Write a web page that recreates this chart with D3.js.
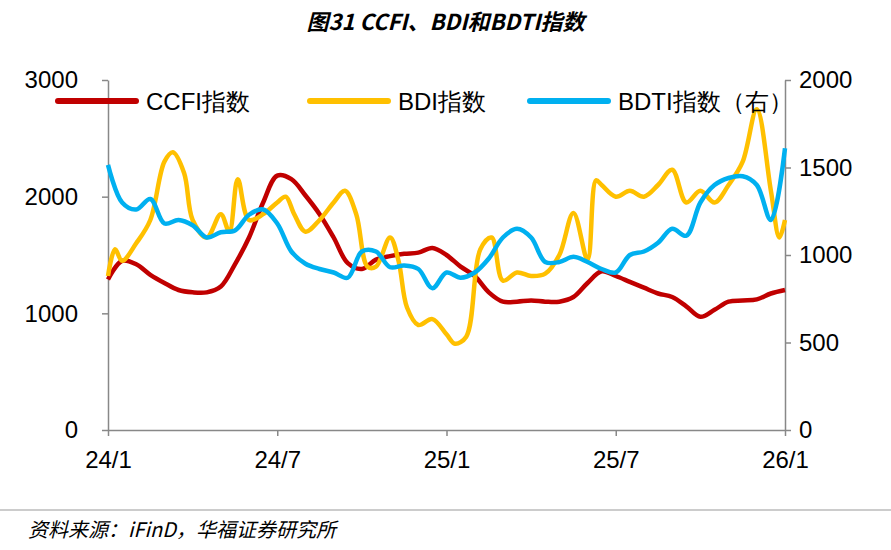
<!DOCTYPE html>
<html><head><meta charset="utf-8">
<script src="https://cdn.jsdelivr.net/npm/d3@7"></script>
<style>body{margin:0;background:#fff}</style>
</head><body>
<div id="chart"></div>
<script>
// months since 2024-01
var ccfiM = [0,0.5,1,1.5,2,2.5,3,3.5,4,4.5,5,5.5,6,6.5,7,7.5,8,8.5,9,9.5,10,10.5,11,11.5,12,12.5,13,13.5,14,14.5,15,15.5,16,16.5,17,17.5,18,18.5,19,19.5,20,20.5,21,21.5,22,22.5,23,23.5,24];
var ccfi = [1290,1450,1420,1330,1260,1200,1180,1180,1230,1420,1650,1950,2180,2150,2010,1850,1650,1430,1380,1460,1490,1510,1520,1560,1500,1400,1320,1180,1100,1100,1110,1100,1100,1140,1260,1360,1320,1270,1220,1170,1140,1060,970,1030,1100,1110,1120,1170,1200];
var bdiM = [0,0.25,0.5,1,1.5,2,2.3,2.7,3,3.5,4,4.3,4.6,5,5.5,6,6.3,6.6,7,7.5,8,8.4,8.8,9.2,9.5,10,10.3,10.6,11,11.5,12,12.3,12.7,13.2,13.6,14,14.5,15,15.5,16,16.5,17,17.3,17.5,18,18.5,19,19.5,20,20.5,21,21.5,22,22.5,23,23.5,23.8,24];
var bdi = [1320,1550,1450,1600,1800,2300,2380,2200,1800,1650,1850,1700,2150,1800,1850,1950,2000,1850,1700,1800,1950,2050,1850,1400,1400,1650,1450,1050,900,950,820,740,800,1550,1650,1280,1350,1320,1340,1500,1860,1460,2140,2100,2000,2050,2000,2100,2230,1950,2050,1950,2100,2300,2750,2050,1650,1800];
var bdtiM = ccfiM;
var bdti = [1515,1300,1260,1320,1180,1200,1170,1100,1130,1140,1230,1260,1180,1020,950,920,900,870,1020,1020,930,940,920,810,900,870,900,980,1100,1150,1100,960,960,990,960,920,900,1000,1020,1070,1150,1110,1300,1400,1440,1450,1400,1200,1610];
var tickM = [0,6,12,18,24];
var tickLabels = ["24/1","24/7","25/1","25/7","26/1"];
var names = ["CCFI指数","BDI指数","BDTI指数（右）"];
var colors = ["#c00000","#ffc000","#00b0f0"];

var W = 891, H = 550;
var svg = d3.select("#chart").append("svg").attr("width", W).attr("height", H)
  .style("font-family", "Liberation Sans, Arial, sans-serif");

var x = d3.scaleLinear().domain([0,24]).range([108,785]);
var yL = d3.scaleLinear().domain([0,3000]).range([430,80]);
var yR = d3.scaleLinear().domain([0,2000]).range([430,80]);

svg.append("text").attr("x", W/2).attr("y", 30).attr("text-anchor","middle")
  .attr("font-size", 22).attr("font-style","italic").attr("font-weight","bold")
  .style("font-family","Noto Sans CJK SC, sans-serif")
  .text("图31 CCFI、BDI和BDTI指数");

function styleAxis(g){
  g.selectAll("path,line").attr("stroke","#888").attr("stroke-width",1.5);
  g.selectAll("text").attr("font-size",24).attr("fill","#000");
}
svg.append("g").attr("transform","translate(108,0)")
  .call(d3.axisLeft(yL).tickValues([0,1000,2000,3000]).tickFormat(d3.format("d")).tickSize(6).tickSizeOuter(0))
  .call(styleAxis)
  .call(function(g){ g.selectAll("text").attr("x",-30); });
svg.append("g").attr("transform","translate(785,0)")
  .call(d3.axisRight(yR).tickValues([0,500,1000,1500,2000]).tickFormat(d3.format("d")).tickSize(6).tickSizeOuter(0))
  .call(styleAxis)
  .call(function(g){ g.selectAll("text").attr("x",14); });
svg.append("g").attr("transform","translate(0,430)")
  .call(d3.axisBottom(x).tickValues(tickM).tickFormat(function(d,i){return tickLabels[i];}).tickSize(6).tickSizeOuter(0))
  .call(styleAxis)
  .call(function(g){ g.selectAll("text").attr("dy","1.2em"); });

function draw(ms, vs, y, c){
  var line = d3.line().x(function(d,i){return x(ms[i]);}).y(function(d){return y(d);}).curve(d3.curveCatmullRom);
  svg.append("path").datum(vs).attr("d", line).attr("fill","none")
    .attr("stroke", c).attr("stroke-width", 4.5).attr("stroke-linejoin","round");
}
draw(ccfiM, ccfi, yL, colors[0]);
draw(bdiM, bdi, yL, colors[1]);
draw(bdtiM, bdti, yR, colors[2]);

// legend
var legX = [58, 310, 530];
names.forEach(function(n,i){
  svg.append("line").attr("x1",legX[i]).attr("x2",legX[i]+78).attr("y1",101).attr("y2",101)
    .attr("stroke",colors[i]).attr("stroke-width",6).attr("stroke-linecap","round");
  svg.append("text").attr("x",legX[i]+88).attr("y",110).attr("font-size",24).text(n);
});

svg.append("line").attr("x1",0).attr("x2",W).attr("y1",510).attr("y2",510).attr("stroke","#999").attr("stroke-width",1);
svg.append("text").attr("x",28).attr("y",537).attr("font-size",20).attr("font-style","italic")
  .style("font-family","Noto Sans CJK SC, sans-serif")
  .text("资料来源：iFinD，华福证券研究所");
</script>
</body></html>
